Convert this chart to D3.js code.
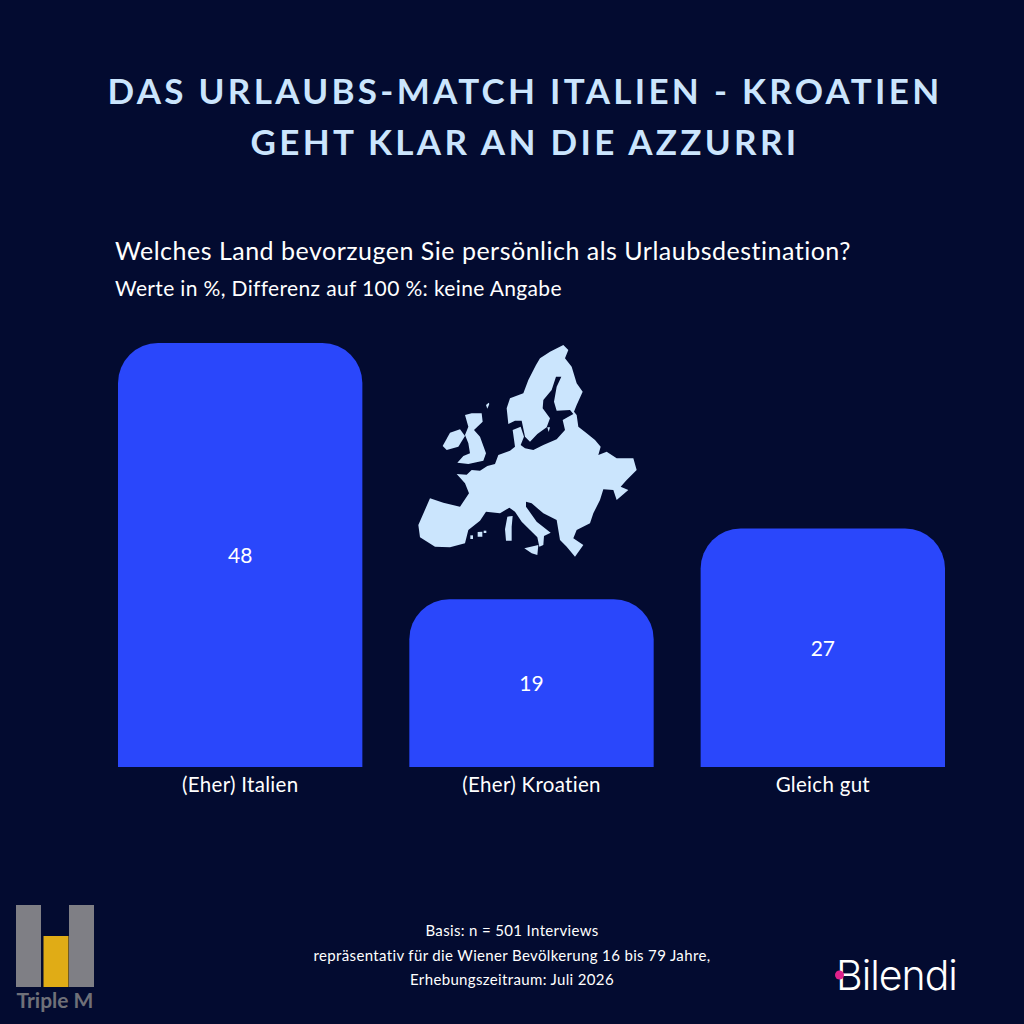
<!DOCTYPE html>
<html>
<head>
<meta charset="utf-8">
<script src="https://cdn.jsdelivr.net/npm/d3@7"></script>
<style>
  html, body { margin: 0; padding: 0; background: #030b30; }
  svg { display: block; }
  text { font-family: Lato, sans-serif; }
</style>
</head>
<body>
<div id="chart"></div>
<script>
'use strict';

// data
const categories = ['(Eher) Italien', '(Eher) Kroatien', 'Gleich gut'];
const values = [48, 19, 27];

const title_lines = ['DAS URLAUBS-MATCH ITALIEN - KROATIEN', 'GEHT KLAR AN DIE AZZURRI'];
const question = 'Welches Land bevorzugen Sie persönlich als Urlaubsdestination?';
const subtitle = 'Werte in %, Differenz auf 100 %: keine Angabe';
const footnote = ['Basis: n = 501 Interviews',
                  'repräsentativ für die Wiener Bevölkerung 16 bis 79 Jahre,',
                  'Erhebungszeitraum: Juli 2026'];

// map outline (decoration, not data)
const map_shapes = [
  // mainland with scandinavia
  [[170,432],[200,434],[215,420],[240,422],[262,408],[285,402],[295,375],[330,362],[345,350],[338,300],[362,290],[372,320],[362,345],[375,355],[400,360],[430,345],[470,328],[495,300],[488,270],[520,252],[510,240],[470,242],[462,215],[470,170],[484,140],[468,140],[455,180],[430,210],[428,235],[450,265],[440,292],[412,312],[390,335],[375,320],[365,272],[345,272],[325,282],[320,235],[330,205],[370,190],[385,150],[408,105],[420,85],[450,65],[490,45],[505,60],[495,85],[515,110],[530,160],[548,185],[530,225],[522,245],[530,255],[535,290],[560,310],[585,330],[602,350],[595,375],[620,365],[650,385],[700,385],[710,420],[680,450],[662,470],[685,480],[650,510],[640,480],[610,478],[600,510],[580,550],[570,580],[530,600],[520,625],[550,645],[525,680],[500,650],[480,630],[470,570],[430,550],[395,520],[378,515],[378,530],[410,575],[452,608],[432,618],[430,645],[418,650],[412,622],[390,600],[365,575],[345,545],[328,533],[300,550],[258,545],[240,572],[205,600],[195,640],[150,652],[105,650],[60,622],[55,585],[90,505],[130,518],[180,530],[207,490],[195,460]],
  // great britain
  [[195,255],[215,250],[245,250],[248,275],[222,300],[240,320],[258,370],[250,392],[205,402],[172,398],[190,378],[210,370],[205,340],[195,315],[205,290]],
  // ireland
  [[150,308],[180,298],[195,318],[175,350],[140,360],[128,348]],
  // sicily
  [[373,655],[415,645],[412,675],[395,670]],
  // sardinia, corsica
  [[322,560],[338,558],[335,590],[335,632],[318,632],[315,598]],
  // balearic
  [[233,606],[247,605],[247,620],[233,620]],
  [[211,616],[219,616],[219,627],[211,627]],
  [[251,602],[259,602],[259,609],[251,609]],
  // shetland
  [[258,225],[266,218],[268,222],[262,236]],
  // gotland
  [[442,292],[450,292],[446,306]]
];

// layout
const width = 1024;
const height = 1024;
const baseline = 767;
const bar_top = 343;
const corner = 40;
const bg_color = '#030b30';
const bar_color = '#2a47fb';
const light_color = '#cbe5fd';
const text_color = '#ffffff';

const svg = d3.select('#chart').append('svg')
    .attr('width', width)
    .attr('height', height);

svg.append('rect').attr('width', width).attr('height', height).attr('fill', bg_color);

// title
svg.append('g').selectAll('text')
    .data(title_lines)
    .enter()
    .append('text')
    .attr('x', 525)
    .attr('y', (d, i) => 104 + i * 51)
    .attr('text-anchor', 'middle')
    .attr('font-size', '35px')
    .attr('font-weight', 700)
    .attr('letter-spacing', '3.3px')
    .attr('fill', light_color)
    .text(d => d);

svg.append('text')
    .attr('x', 115).attr('y', 260)
    .attr('font-size', '25px')
    .attr('letter-spacing', '0.5px')
    .attr('fill', text_color)
    .text(question);

svg.append('text')
    .attr('x', 115).attr('y', 296)
    .attr('font-size', '21px')
    .attr('letter-spacing', '0.35px')
    .attr('fill', text_color)
    .text(subtitle);

// scales
const x = d3.scaleBand()
    .domain(categories)
    .range([118, 945])
    .paddingInner(0.1612);

const y = d3.scaleLinear()
    .domain([0, d3.max(values)])
    .range([baseline, bar_top]);

function bar_path(cat, val) {
    const x0 = x(cat), x1 = x0 + x.bandwidth(), top = y(val), bottom = y(0);
    const p = d3.path();
    p.moveTo(x0, bottom);
    p.lineTo(x0, top + corner);
    p.arcTo(x0, top, x0 + corner, top, corner);
    p.lineTo(x1 - corner, top);
    p.arcTo(x1, top, x1, top + corner, corner);
    p.lineTo(x1, bottom);
    p.closePath();
    return p.toString();
}

const data = categories.map((c, i) => ({ cat: c, val: values[i] }));

svg.append('g').selectAll('path')
    .data(data)
    .enter()
    .append('path')
    .attr('d', d => bar_path(d.cat, d.val))
    .attr('fill', bar_color);

// value labels
svg.append('g').selectAll('text')
    .data(data)
    .enter()
    .append('text')
    .attr('x', d => x(d.cat) + x.bandwidth() / 2)
    .attr('y', d => (y(d.val) + y(0)) / 2 + 8)
    .attr('text-anchor', 'middle')
    .attr('font-size', '21px')
    .attr('fill', text_color)
    .text(d => d.val);

// category axis, no line and no ticks
const x_axis = svg.append('g')
    .attr('transform', `translate(0,${baseline})`)
    .call(d3.axisBottom(x).tickSize(0).tickPadding(10));
x_axis.select('.domain').remove();
x_axis.selectAll('text')
    .attr('font-size', '20.5px')
    .attr('letter-spacing', '0.3px')
    .attr('fill', text_color)
    .style('font-family', 'Lato, sans-serif');

// map
const map_x = d3.scaleLinear().domain([0, 750]).range([400, 650]);
const map_y = d3.scaleLinear().domain([0, 720]).range([330, 570]);
const map_line = d3.line()
    .x(d => map_x(d[0]))
    .y(d => map_y(d[1]))
    .curve(d3.curveLinearClosed);

svg.append('g').selectAll('path')
    .data(map_shapes)
    .enter()
    .append('path')
    .attr('d', map_line)
    .attr('fill', light_color);

// footnote
svg.append('g').selectAll('text')
    .data(footnote)
    .enter()
    .append('text')
    .attr('x', 512)
    .attr('y', (d, i) => 936 + i * 24.5)
    .attr('text-anchor', 'middle')
    .attr('font-size', '15px')
    .attr('letter-spacing', '0.35px')
    .attr('fill', text_color)
    .text(d => d);

// triple m logo
const logo = svg.append('g');
logo.append('rect').attr('x', 16).attr('y', 905).attr('width', 25).attr('height', 82).attr('fill', '#7f7f85');
logo.append('rect').attr('x', 69).attr('y', 905).attr('width', 25).attr('height', 82).attr('fill', '#7f7f85');
logo.append('rect').attr('x', 43.5).attr('y', 936).attr('width', 25).attr('height', 51).attr('fill', '#e0ac16');
logo.append('text')
    .attr('x', 55).attr('y', 1008)
    .attr('text-anchor', 'middle')
    .attr('font-size', '21px')
    .attr('font-weight', 700)
    .attr('fill', '#6f7078')
    .text('Triple M');

// bilendi logo
const bilendi = svg.append('g');
bilendi.append('text')
    .attr('x', 836).attr('y', 990)
    .attr('font-size', '41px')
    .attr('font-weight', 300)
    .attr('letter-spacing', '-1px')
    .attr('fill', text_color)
    .style('font-family', 'Inter, sans-serif')
    .text('Bilendi');
bilendi.append('circle')
    .attr('cx', 839.5).attr('cy', 975).attr('r', 4.5)
    .attr('fill', '#e0218a');
</script>
</body>
</html>
